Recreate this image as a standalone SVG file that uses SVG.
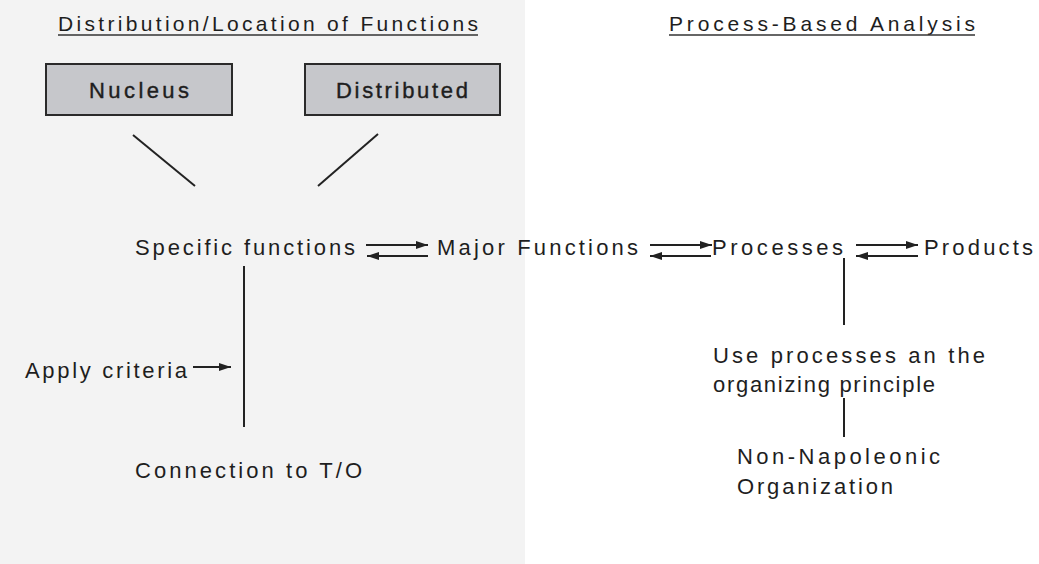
<svg xmlns="http://www.w3.org/2000/svg" width="1039" height="564" viewBox="0 0 1039 564">
<defs>
<style>
text{font-family:"Liberation Sans",Arial,sans-serif;fill:#1e1e1e;font-size:22px}
.t{font-size:21px}
.bt{font-size:22px;stroke:#1e1e1e;stroke-width:0.4}
.box{fill:#c6c7cb;stroke:#2a2a2a;stroke-width:2}
.ln{stroke:#222;stroke-width:2;fill:none}
.ul{stroke:#333;stroke-width:1.6}
</style>
<marker id="ah" viewBox="0 0 12 8" refX="12" refY="4" markerWidth="12" markerHeight="8" markerUnits="userSpaceOnUse" orient="auto">
<path d="M0,0 L12,4 L0,8 z" fill="#222"/>
</marker>
</defs>
<rect x="0" y="0" width="1039" height="564" fill="#ffffff"/>
<rect x="0" y="0" width="525" height="564" fill="#f3f3f3"/>
<g id="title-left">
<text class="t" x="58" y="31" textLength="420" lengthAdjust="spacing">Distribution/Location of Functions</text>
<line class="ul" x1="58" y1="35" x2="478" y2="35"/>
</g>
<g id="title-right">
<text class="t" x="669" y="31" textLength="306" lengthAdjust="spacing">Process-Based Analysis</text>
<line class="ul" x1="669" y1="35" x2="975" y2="35"/>
</g>
<g id="nucleus">
<rect class="box" x="46" y="64" width="186" height="51"/>
<text class="bt" x="139" y="98" text-anchor="middle" textLength="100" lengthAdjust="spacing">Nucleus</text>
</g>
<g id="distributed">
<rect class="box" x="305" y="64" width="195" height="51"/>
<text class="bt" x="402" y="98" text-anchor="middle" textLength="132" lengthAdjust="spacing">Distributed</text>
</g>
<g id="specific">
<text x="135" y="255" textLength="220" lengthAdjust="spacing">Specific functions</text>
</g>
<g id="major">
<text x="437" y="255" textLength="201" lengthAdjust="spacing">Major Functions</text>
</g>
<g id="processes">
<text x="712" y="255" textLength="131" lengthAdjust="spacing">Processes</text>
</g>
<g id="products">
<text x="924" y="255" textLength="109" lengthAdjust="spacing">Products</text>
</g>
<g id="apply">
<text x="25" y="378" textLength="162" lengthAdjust="spacing">Apply criteria</text>
</g>
<g id="connection">
<text x="135" y="478" textLength="227" lengthAdjust="spacing">Connection to T/O</text>
</g>
<g id="use">
<text x="713" y="363" textLength="272" lengthAdjust="spacing">Use processes an the</text>
<text x="713" y="392" textLength="222" lengthAdjust="spacing">organizing principle</text>
</g>
<g id="nonnap">
<text x="737" y="464" textLength="203" lengthAdjust="spacing">Non-Napoleonic</text>
<text x="737" y="494" textLength="156" lengthAdjust="spacing">Organization</text>
</g>
<g id="connectors">
<line class="ln" x1="133" y1="135" x2="195" y2="186"/>
<line class="ln" x1="378" y1="134" x2="318" y2="186"/>
<line class="ln" x1="366" y1="245" x2="428" y2="245" marker-end="url(#ah)"/>
<line class="ln" x1="428" y1="256" x2="367" y2="256" marker-end="url(#ah)"/>
<line class="ln" x1="650" y1="245" x2="712" y2="245" marker-end="url(#ah)"/>
<line class="ln" x1="711" y1="256" x2="650" y2="256" marker-end="url(#ah)"/>
<line class="ln" x1="856" y1="245" x2="918" y2="245" marker-end="url(#ah)"/>
<line class="ln" x1="918" y1="256" x2="856" y2="256" marker-end="url(#ah)"/>
<line class="ln" x1="244" y1="266" x2="244" y2="427"/>
<line class="ln" x1="193" y1="367" x2="231" y2="367" marker-end="url(#ah)"/>
<line class="ln" x1="844" y1="258" x2="844" y2="325"/>
<line class="ln" x1="844" y1="398" x2="844" y2="437"/>
</g>
</svg>
